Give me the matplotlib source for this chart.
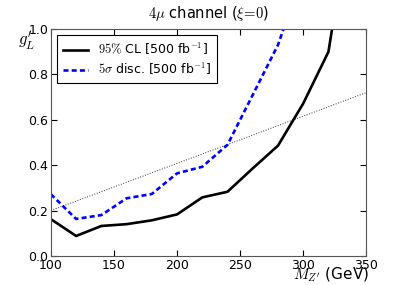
import matplotlib
matplotlib.use("Agg")
import matplotlib.pyplot as plt
import numpy as np

plt.rcParams['mathtext.fontset'] = 'cm'
plt.rcParams['font.family'] = ['DejaVu Sans']

mass = [100, 120, 140, 160, 180, 200, 220, 240, 260, 280, 300, 320, 340]
cl95 = [0.162, 0.088, 0.132, 0.140, 0.157, 0.183, 0.258, 0.283, 0.386, 0.486, 0.672, 0.900, 1.60]
mass_disc = [100, 120, 140, 160, 180, 200, 220, 240, 260, 280, 300]
disc5 = [0.272, 0.163, 0.180, 0.254, 0.273, 0.364, 0.393, 0.490, 0.710, 0.930, 1.250]
ref_x = [100, 350]
ref_y = [0.20, 0.72]

fig = plt.figure(figsize=(4.07, 2.85), dpi=100)
ax = fig.add_axes([0.125, 0.102, 0.775, 0.796])

ax.plot(ref_x, ref_y, color='#333333', linestyle=':', linewidth=0.7)
ax.plot(mass, cl95, color='black', linewidth=1.9, label=r'$95\%$ CL [500 fb$^{-1}$]')
ax.plot(mass_disc, disc5, color='blue', linewidth=1.9, linestyle='--', dashes=(1.9, 1.2),
        label=r'$5\sigma$ disc. [500 fb$^{-1}$]')

ax.set_xlim(100, 350)
ax.set_ylim(0, 1.0)
ax.set_xticks([100, 150, 200, 250, 300, 350])
ax.set_yticks([0.0, 0.2, 0.4, 0.6, 0.8, 1.0])
ax.tick_params(direction='in', top=True, right=True, labelsize=9, length=4, pad=2)
for s in ax.spines.values():
    s.set_color('#555555')

ax.set_title(r'$4\mu$ channel ($\xi\!=\!0$)', fontsize=10.5, pad=8)
ax.text(-0.105, 0.95, r"$g_L'$", transform=ax.transAxes, fontsize=12, ha='left', va='center')
ax.text(1.01, -0.085, r"$M_{Z'}$ (GeV)", transform=ax.transAxes, fontsize=11, ha='right', va='center')

leg = ax.legend(loc='upper left', fontsize=9, fancybox=False, framealpha=1, edgecolor='black',
                handlelength=2, borderpad=0.45, labelspacing=0.35)
leg.get_frame().set_linewidth(0.8)

fig.savefig('out.png', dpi=100)
